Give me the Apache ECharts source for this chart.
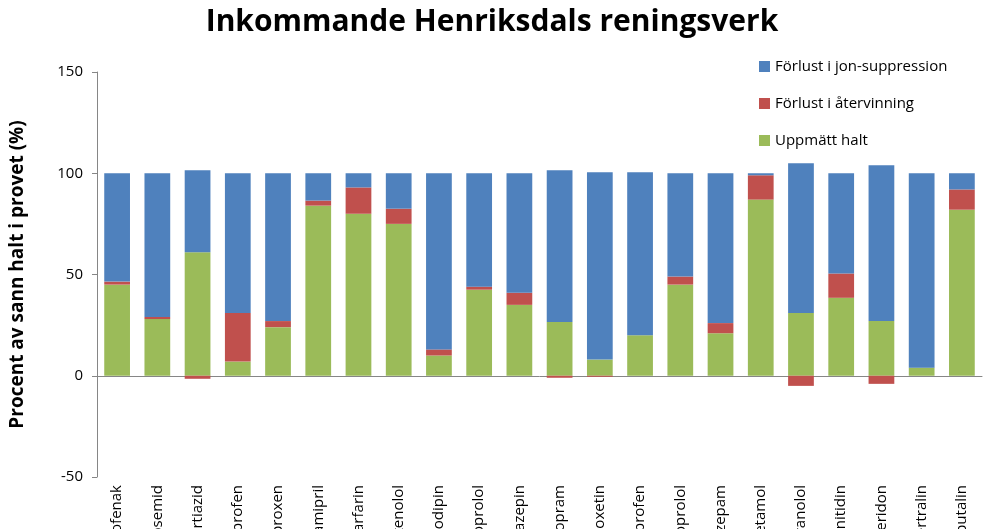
<!DOCTYPE html>
<html><head><meta charset="utf-8">
<script src="https://cdn.jsdelivr.net/npm/echarts@6/dist/echarts.min.js"></script>
<style>html,body{margin:0;background:#fff}#c{width:984px;height:529px}</style>
</head><body><div id="c"></div>
<script>
const categories = ['Diklofenak','Furosemid','Hydroklortiazid','Ibuprofen','Naproxen','Ramipril','Warfarin','Atenolol','Amlodipin','Bisoprolol','Karbamazepin','Citalopram','Fluoxetin','Ketoprofen','Metoprolol','Oxazepam','Paracetamol','Propranolol','Ranitidin','Risperidon','Sertralin','Terbutalin'];
const uppmatt = [45,28,61,7,24,84,80,75,10,42.5,35,26.5,8,20,45,21,87,31,38.5,27,4,82];
const atervinning = [1.5,1,-1.5,24,3,2.5,13,7.5,3,1.5,6,-1,-0.5,0,4,5,12,-5,12,-4,0,10];
const jonsupp = [53.5,71,40.5,69,73,13.5,7,17.5,87,56,59,75,92.5,80.5,51,74,1,74,49.5,77,96,8];
const yTicks = [-50,0,50,100,150];

const chart = echarts.init(document.getElementById('c'));
const bar = (name, data, color) => ({name, type:'bar', stack:'s', data, barWidth:'64%', itemStyle:{color}});
chart.setOption({
  animation:false,
  title:{text:'Inkommande Henriksdals reningsverk', left:'center', top:2,
    textStyle:{fontFamily:'Open Sans', fontSize:30, fontWeight:'bold', color:'#000'}},
  legend:{orient:'vertical', left:754, top:54, itemWidth:11, itemHeight:11, itemGap:22,
    icon:'rect', textStyle:{fontFamily:'Open Sans', fontSize:15, color:'#000'},
    data:['Förlust i jon-suppression','Förlust i återvinning','Uppmätt halt']},
  grid:{left:97, right:2, top:72, bottom:52, outerBoundsMode:'none', containLabel:false},
  xAxis:{type:'category', data:categories,
    axisLine:{onZero:true, lineStyle:{color:'#868686'}}, axisTick:{show:false},
    axisLabel:{rotate:90, fontFamily:'Open Sans', fontSize:15, color:'#000', margin:8}},
  yAxis:{type:'value', min:yTicks[0], max:yTicks[yTicks.length-1], interval:50,
    name:'Procent av sann halt i provet (%)', nameLocation:'middle', nameGap:70,
    nameTextStyle:{fontFamily:'Open Sans', fontSize:19, fontWeight:'bold', color:'#000'},
    axisLine:{show:true, lineStyle:{color:'#868686'}}, axisTick:{show:true, length:5},
    splitLine:{show:false},
    axisLabel:{fontFamily:'Open Sans', fontSize:15, color:'#000', margin:14}},
  series:[
    bar('Uppmätt halt', uppmatt, '#9BBB59'),
    bar('Förlust i återvinning', atervinning, '#C0504D'),
    bar('Förlust i jon-suppression', jonsupp, '#4F81BD')
  ]
});
</script></body></html>
